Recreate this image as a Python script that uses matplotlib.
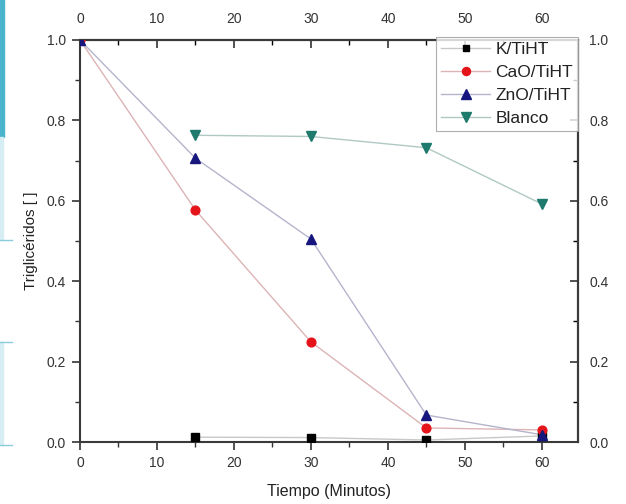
import matplotlib

matplotlib.use("Agg")
import matplotlib.pyplot as plt
from matplotlib.patches import Rectangle
from matplotlib.lines import Line2D
import matplotlib.ticker as mticker

plt.rcParams["font.family"] = ["Liberation Sans", "DejaVu Sans"]

# Conversion of triglycerides vs. time for each catalyst
t_k = [15, 30, 45, 60]
k_tiht = [0.012, 0.011, 0.005, 0.015]

t_cao = [0, 15, 30, 45, 60]
cao_tiht = [1.0, 0.577, 0.249, 0.035, 0.03]

t_zno = [0, 15, 30, 45, 60]
zno_tiht = [1.0, 0.706, 0.505, 0.067, 0.018]

t_blanco = [15, 30, 45, 60]
blanco = [0.763, 0.760, 0.732, 0.592]

x_ticks = [0, 10, 20, 30, 40, 50, 60]
y_ticks = [0.0, 0.2, 0.4, 0.6, 0.8, 1.0]

series = [
    ("K/TiHT", t_k, k_tiht, "s", "black", "#c8c8c8", 5.5),
    ("CaO/TiHT", t_cao, cao_tiht, "o", "#e5141b", "#dcb4b6", 6.3),
    ("ZnO/TiHT", t_zno, zno_tiht, "^", "#16167e", "#b4b4cc", 7),
    ("Blanco", t_blanco, blanco, "v", "#1e7a6c", "#b0c8c4", 7),
]

fig = plt.figure(figsize=(6.26, 5.04), dpi=100)
ax = fig.add_axes([80 / 626, 62 / 504, 498 / 626, 402 / 504])

handles = []
for label, t, y, marker, mcolor, lcolor, ms in series:
    ax.plot(t, y, color=lcolor, linewidth=1.0, zorder=2)
    ax.plot(t, y, linestyle="none", marker=marker, markersize=ms,
            markerfacecolor=mcolor, markeredgecolor=mcolor, zorder=3)
    handles.append(Line2D([], [], color=lcolor, linewidth=1.0, marker=marker,
                          markersize=ms - 0.5, markerfacecolor=mcolor,
                          markeredgecolor=mcolor, label=label))

ax.set_xlim(0, 64.7)
ax.set_ylim(0, 1.0)
ax.set_xticks(x_ticks)
ax.set_yticks(y_ticks)
ax.set_yticklabels([f"{v:.1f}" for v in y_ticks])
ax.xaxis.set_minor_locator(mticker.MultipleLocator(5))
ax.yaxis.set_minor_locator(mticker.MultipleLocator(0.1))
ax.tick_params(which="major", direction="out", length=6, width=1.2,
               labelsize=10, colors="#333333", pad=4)
ax.tick_params(which="minor", direction="out", length=3.5, width=1.0,
               colors="#333333")

for spine in ax.spines.values():
    spine.set_linewidth(1.5)
    spine.set_color("#3a3a3a")

# mirrored axes on top and right with inward ticks
top = ax.secondary_xaxis("top")
top.set_xticks(x_ticks)
top.xaxis.set_minor_locator(mticker.MultipleLocator(5))
top.tick_params(which="major", direction="in", length=6, width=1.2,
                labelsize=10, colors="#333333", pad=10)
top.tick_params(which="minor", direction="in", length=3.5, width=1.0)
top.spines["top"].set_linewidth(1.5)

right = ax.secondary_yaxis("right")
right.set_yticks(y_ticks)
right.set_yticklabels([f"{v:.1f}" for v in y_ticks])
right.yaxis.set_minor_locator(mticker.MultipleLocator(0.1))
right.tick_params(which="major", direction="in", length=6, width=1.2,
                  labelsize=10, colors="#333333", pad=8)
right.tick_params(which="minor", direction="in", length=3.5, width=1.0)
right.spines["right"].set_linewidth(1.5)

ax.set_xlabel("Tiempo (Minutos)", fontsize=11.5, color="#222222", labelpad=10)
ax.set_ylabel("Triglicéridos [ ]", fontsize=11, color="#222222", labelpad=6)

leg = ax.legend(handles=handles, loc="upper right", bbox_to_anchor=(1.0, 1.008),
                fontsize=12.5, frameon=True, fancybox=False, handlelength=2.8,
                handletextpad=0.3, borderpad=0.3, labelspacing=0.45,
                borderaxespad=0.0)
leg.get_frame().set_edgecolor("#9a9a9a")
leg.get_frame().set_linewidth(0.8)
for txt in leg.get_texts():
    txt.set_color("#222222")

# slide-edge decoration on the left margin
fig.patches.append(Rectangle((0, 1 - 137 / 504), 4 / 626, 137 / 504,
                             transform=fig.transFigure, color="#4ab4cc", zorder=0))
for y0, y1 in [(137, 240), (342, 445)]:
    fig.patches.append(Rectangle((0, 1 - y1 / 504), 3 / 626, (y1 - y0) / 504,
                                 transform=fig.transFigure, color="#d6edf3", zorder=0))
for yl in [240, 342, 445]:
    fig.add_artist(Line2D([0, 12 / 626], [1 - yl / 504] * 2,
                          transform=fig.transFigure, color="#8ccbdc", linewidth=1))

fig.savefig("out.png", dpi=100)
